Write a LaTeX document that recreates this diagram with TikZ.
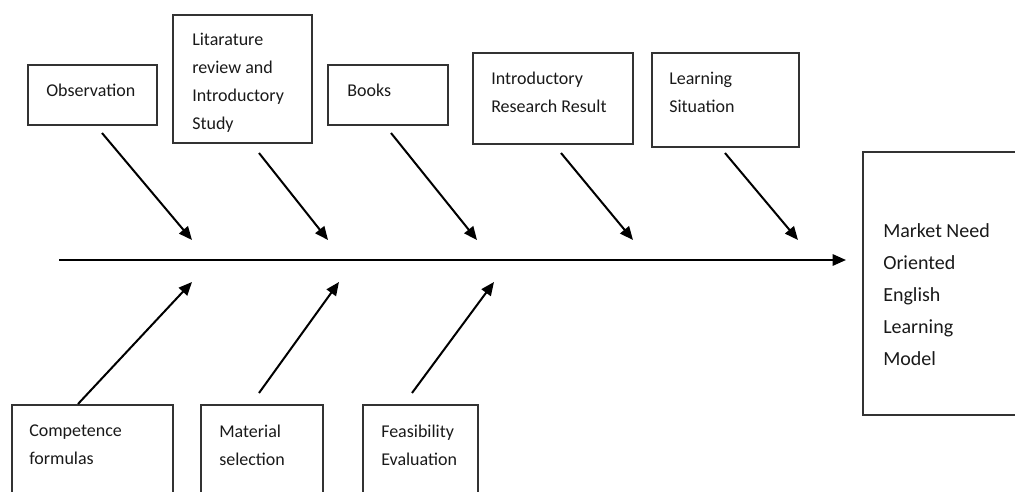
\documentclass[tikz,border=0pt]{standalone}
\usepackage{fontspec}
\setmainfont{Carlito}
\usetikzlibrary{arrows.meta,fit}
\begin{document}
\begin{tikzpicture}[x=0.75pt,y=-0.75pt,
  box/.style={draw=black!80,line width=1.1pt,inner sep=0pt,fill=none},
  txt/.style={anchor=west,inner sep=0pt,align=left,text=black!90,
    font=\fontsize{13.5}{21}\selectfont},
  bigtxt/.style={anchor=west,inner sep=0pt,align=left,text=black!90,
    font=\fontsize{15}{24}\selectfont},
  arr/.style={line width=1.5pt,-{Triangle[length=10pt,width=8.5pt]}}]
\useasboundingbox (0,0) rectangle (1015,492);
\clip (0,0) rectangle (1015,492);
% boxes
\node[box,fit={(28,65) (157,125)}] (obs) {};
\node[box,fit={(173,15) (312,143)}] (lit) {};
\node[box,fit={(328,65) (448,125)}] (books) {};
\node[box,fit={(473,53) (633,144)}] (intro) {};
\node[box,fit={(652,53) (799,147)}] (learn) {};
\node[box,fit={(863,152) (1030,415)}] (market) {};
\node[box,fit={(12,405) (173,510)}] (comp) {};
\node[box,fit={(201,405) (323,510)}] (mat) {};
\node[box,fit={(363,405) (478,510)}] (feas) {};
% texts
\node[txt] (obst) at (46,90) {Observation};
\node[txt] (litt) at (192,83) {Litarature\\review and\\Introductory\\Study};
\node[txt] (bookst) at (347,90) {Books};
\node[txt] (introt) at (491,92) {Introductory\\Research Result};
\node[txt] (learnt) at (669,92) {Learning\\Situation};
\node[bigtxt] (markett) at (883,295) {Market Need\\Oriented\\English\\Learning\\Model};
\node[txt] (compt) at (29,445) {Competence\\formulas};
\node[txt] (matt) at (219,445) {Material\\selection};
\node[txt] (feast) at (381,445) {Feasibility\\Evaluation};
% spine
\coordinate (s0) at (59,260);
\coordinate (s1) at (846,260);
\draw[arr] (s0) -- (s1);
% top arrows
\coordinate (t1a) at (102,133); \coordinate (t1b) at (192,240);
\coordinate (t2a) at (259,153); \coordinate (t2b) at (328,240);
\coordinate (t3a) at (391,133); \coordinate (t3b) at (477,240);
\coordinate (t4a) at (561,153); \coordinate (t4b) at (633,240);
\coordinate (t5a) at (725,153); \coordinate (t5b) at (798,240);
\draw[arr] (t1a) -- (t1b);
\draw[arr] (t2a) -- (t2b);
\draw[arr] (t3a) -- (t3b);
\draw[arr] (t4a) -- (t4b);
\draw[arr] (t5a) -- (t5b);
% bottom arrows
\coordinate (b1a) at (78,404); \coordinate (b1b) at (192,282);
\coordinate (b2a) at (259,393); \coordinate (b2b) at (339,282);
\coordinate (b3a) at (412,393); \coordinate (b3b) at (494,282);
\draw[arr] (b1a) -- (b1b);
\draw[arr] (b2a) -- (b2b);
\draw[arr] (b3a) -- (b3b);
\end{tikzpicture}
\end{document}
